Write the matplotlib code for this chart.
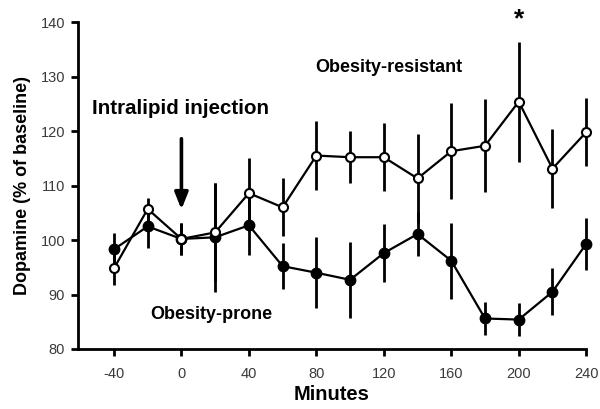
import matplotlib
matplotlib.use("Agg")
import matplotlib.pyplot as plt

plt.rcParams['font.family'] = ['Liberation Sans', 'DejaVu Sans']
plt.rcParams['axes.unicode_minus'] = False

minutes = [-40, -20, 0, 20, 40, 60, 80, 100, 120, 140, 160, 180, 200, 220, 240]
resistant = [94.8, 105.7, 100.2, 101.4, 108.6, 106.0, 115.5, 115.2, 115.2, 111.3, 116.3, 117.3, 125.4, 113.1, 119.8]
resistant_err = [3.0, 2.0, 3.0, 9.0, 6.5, 5.3, 6.3, 4.8, 6.2, 8.2, 8.8, 8.5, 11.0, 7.2, 6.2]
prone = [98.3, 102.5, 100.2, 100.5, 102.7, 95.2, 94.0, 92.7, 97.6, 101.1, 96.2, 85.6, 85.4, 90.5, 99.3]
prone_err = [3.0, 4.0, 3.0, 10.0, 5.5, 4.2, 6.5, 7.0, 5.3, 4.0, 7.0, 3.0, 3.0, 4.3, 4.8]
xticks = [-40, 0, 40, 80, 120, 160, 200, 240]
yticks = [80, 90, 100, 110, 120, 130, 140]

fig = plt.figure(figsize=(6, 4.09), dpi=100)
ax = fig.add_axes([0.1295, 0.1467, 0.8475, 0.7993])

c1 = ax.errorbar(minutes, prone, yerr=prone_err, color='black', lw=1.6, elinewidth=2.0,
                 capsize=0, marker='o', ms=7.5, mfc='black', mec='black', zorder=3)
c2 = ax.errorbar(minutes, resistant, yerr=resistant_err, color='black', lw=1.6, elinewidth=2.0,
                 capsize=0, marker='o', ms=6.5, mfc='white', mec='black', mew=1.5, zorder=4)
for c in (c1, c2):
    for art in c.get_children():
        art.set_clip_on(False)

ax.set_xlim(-61.5, 240)
ax.set_ylim(80, 140)
ax.set_xticks(xticks)
ax.set_yticks(yticks)
for s in ['top', 'right']:
    ax.spines[s].set_visible(False)
for s in ['left', 'bottom']:
    ax.spines[s].set_linewidth(2)
ax.tick_params(direction='out', length=5, width=2, labelsize=10.5, labelcolor='#3a3a3a')
ax.tick_params(axis='y', pad=4)
ax.tick_params(axis='x', pad=8)

ax.set_xlabel('Minutes', fontsize=14.5, fontweight='bold', labelpad=3)
ax.set_ylabel('Dopamine (% of baseline)', fontsize=13, fontweight='bold', labelpad=7)

ax.text(-0.6, 124.2, 'Intralipid injection', fontsize=14.8, fontweight='bold', ha='center', va='center')
ax.annotate('', xy=(0, 105.1), xytext=(0, 119.1),
            arrowprops=dict(arrowstyle='-|>,head_length=1.0,head_width=0.4', lw=2.6, color='black'))
ax.text(123, 131.6, 'Obesity-resistant', fontsize=13, fontweight='bold', ha='center', va='center')
ax.text(17.7, 86.3, 'Obesity-prone', fontsize=13, fontweight='bold', ha='center', va='center')
ax.text(200, 140.6, '*', fontsize=19, fontweight='bold', ha='center', va='center', clip_on=False)

fig.savefig('out.png', dpi=100)
